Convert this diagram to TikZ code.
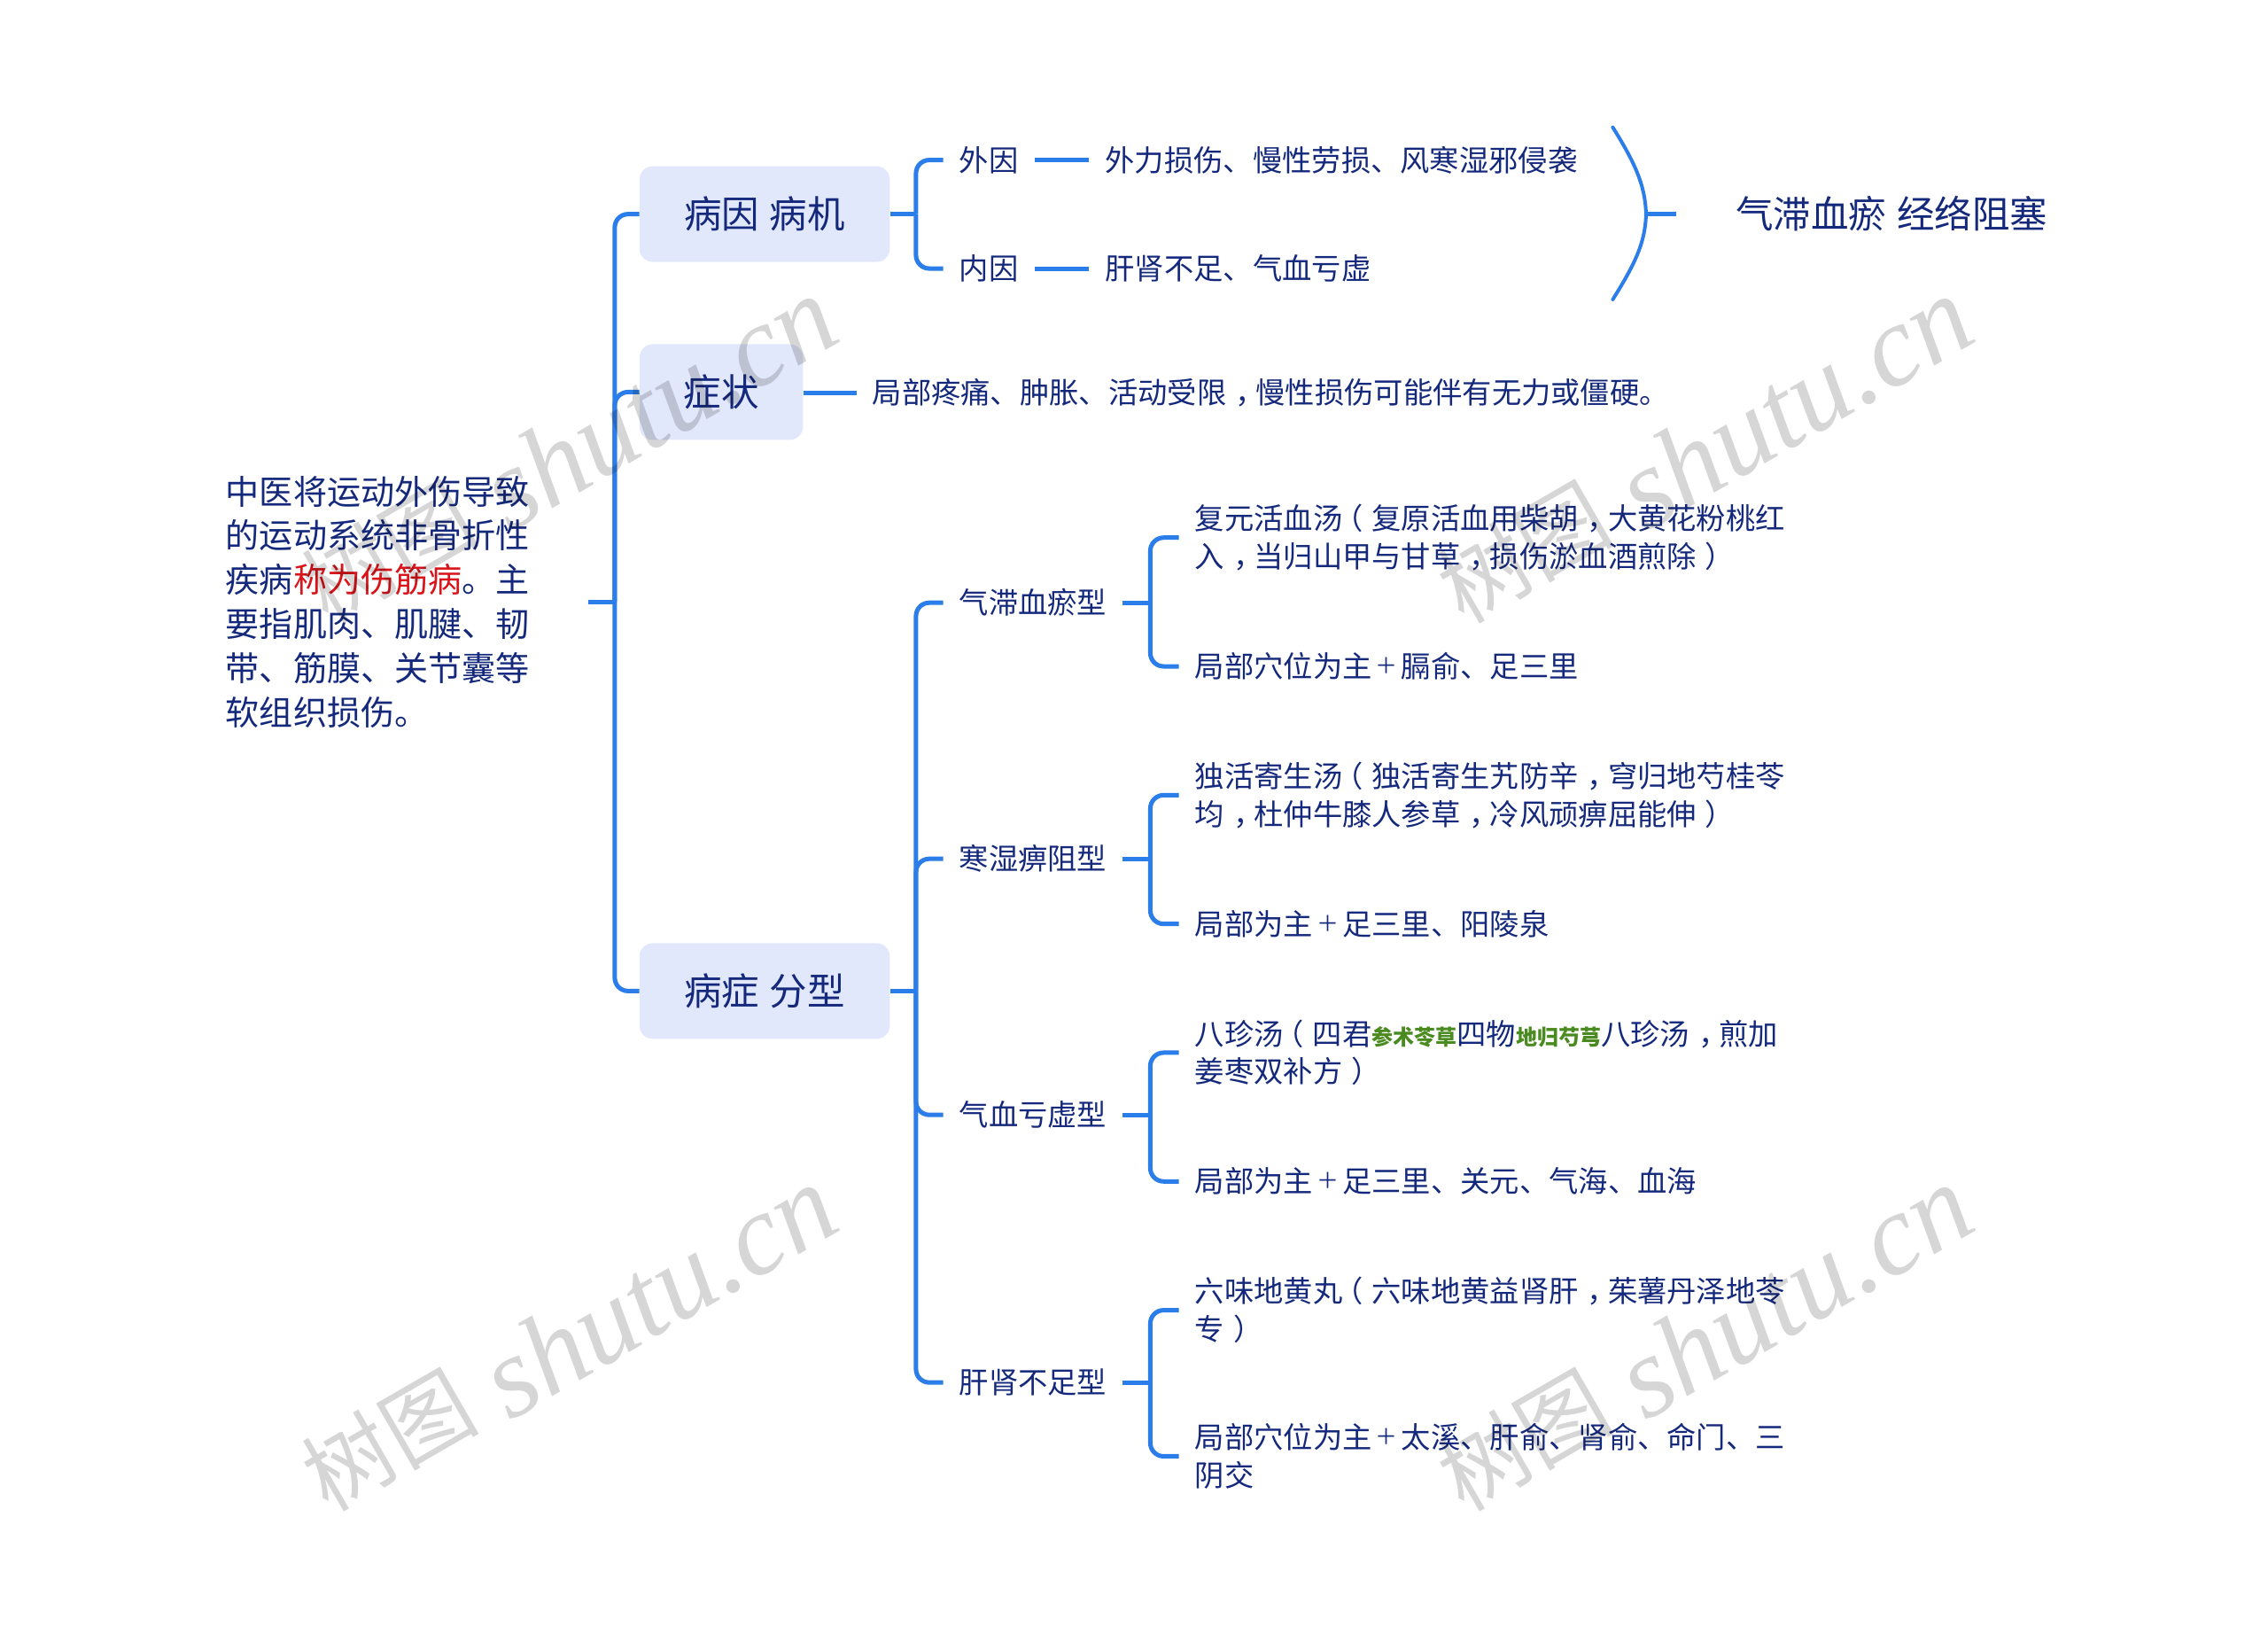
\documentclass[tikz,border=0pt]{standalone}
\usepackage{fontspec}
\setmainfont{Noto Sans CJK SC}
\newfontfamily\wmlatin{Liberation Serif}[ItalicFont=* Italic]
\definecolor{ink}{HTML}{15297C}
\definecolor{wire}{HTML}{2B7DE9}
\definecolor{boxfill}{HTML}{E2E8FC}
\definecolor{herb}{HTML}{4A8A20}
\definecolor{redtxt}{HTML}{D9141A}
\newcommand{\herbs}[1]{{\color{herb}\fontsize{24}{24}\selectfont\bfseries #1}}
\newcommand{\lpar}{\makebox[1em][l]{\hspace{-.3em}（}}
\newcommand{\rpar}{\makebox[1em][l]{\hspace{.3em}）}}
\newcommand{\cma}{\makebox[1em][l]{\hspace{.3em}，}}
\newcommand{\pls}{\makebox[1em][c]{\raisebox{.12em}{\fontsize{25}{25}\selectfont ＋}}}
\tikzset{
  link/.style={draw=wire,line width=5pt,rounded corners=15pt},
  bigbox/.style={fill=boxfill,rounded corners=15pt,anchor=west,text=ink,inner sep=0pt,minimum height=108pt,font=\fontsize{42.5}{50}\selectfont},
  leaf/.style={anchor=west,text=ink,align=left,inner ysep=0pt,inner xsep=18pt,yshift=-1pt,font=\fontsize{33.3}{42.5}\selectfont},
  rootbox/.style={anchor=west,text=ink,align=left,inner sep=0pt,text width=410pt,font=\fontsize{38.1}{49.8}\selectfont},
  heading/.style={anchor=west,text=ink,inner ysep=0pt,inner xsep=67pt,font=\fontsize{42.5}{50}\selectfont},
  wmark/.style={text=black,opacity=0.16,rotate=30,font=\fontsize{130}{130}\selectfont}
}
\begin{document}
\begin{tikzpicture}[x=1.63265pt,y=-1.63265pt]
\useasboundingbox (0,0) rectangle (1568,1128.84);
% root
\node[rootbox] (root) at (156,416) {中医将运动外伤导致\\的运动系统非骨折性\\疾病{\color{redtxt}称为伤筋病}。主\\要指肌肉、肌腱、韧\\带、筋膜、关节囊等\\软组织损伤。};
\coordinate (rootout) at (407,416);
% main boxes
\node[bigbox,minimum width=282.5pt] (cause) at (442,148) {病因 \hspace{.05em}病机};
\node[bigbox,minimum width=184.5pt] (sym) at (442,271) {症状};
\node[bigbox,minimum width=282.5pt] (type) at (442,685) {病症 \hspace{.05em}分型};
% cause
\node[leaf] (wai) at (652,110) {外因};
\node[leaf] (nei) at (652,185) {内因};
\node[leaf] (waid) at (753,110) {外力损伤、慢性劳损、风寒湿邪侵袭};
\node[leaf] (neid) at (753,185) {肝肾不足、气血亏虚};
\node[heading] (sum) at (1159,148) {气滞血瘀 \hspace{.05em}经络阻塞};
\coordinate (btop) at (1115,88);
\coordinate (bbot) at (1115,207);
\coordinate (bmid) at (1138,148);
% symptom
\node[leaf] (symd) at (592,271) {局部疼痛、肿胀、活动受限\cma 慢性损伤可能伴有无力或僵硬。};
% types
\node[leaf] (t1) at (652,416) {气滞血瘀型};
\node[leaf] (t2) at (652,593) {寒湿痹阻型};
\node[leaf] (t3) at (652,770) {气血亏虚型};
\node[leaf] (t4) at (652,955) {肝肾不足型};
\node[leaf] (t1a) at (815,371) {复元活血汤\lpar 复原活血用柴胡\cma 大黄花粉桃红\\入\cma 当归山甲与甘草\cma 损伤淤血酒煎除\rpar};
\node[leaf] (t1b) at (815,460) {局部穴位为主\pls 膈俞、足三里};
\node[leaf] (t2a) at (815,549) {独活寄生汤\lpar 独活寄生艽防辛\cma 穹归地芍桂苓\\均\cma 杜仲牛膝人参草\cma 冷风顽痹屈能伸\rpar};
\node[leaf] (t2b) at (815,638) {局部为主\pls 足三里、阳陵泉};
\node[leaf] (t3a) at (815,727) {八珍汤\lpar 四君\herbs{参术苓草}四物\herbs{地归芍芎}八珍汤\cma 煎加\\姜枣双补方\rpar};
\node[leaf] (t3b) at (815,816) {局部为主\pls 足三里、关元、气海、血海};
\node[leaf] (t4a) at (815,905) {六味地黄丸\lpar 六味地黄益肾肝\cma 茱薯丹泽地苓\\专\rpar};
\node[leaf] (t4b) at (815,1006) {局部穴位为主\pls 太溪、肝俞、肾俞、命门、三\\阴交};
% connectors
\draw[link] (root.east -| rootout) -- ++(18,0) coordinate (jroot);
\foreach \b in {cause,sym,type}{\draw[link] (jroot) |- (\b.west);}
\draw[link] (cause.east) -- ++(18,0) coordinate (jcause);
\foreach \b in {wai,nei}{\draw[link] (jcause) |- (\b.west);}
\draw[link] (wai.east) -- (waid.west);
\draw[link] (nei.east) -- (neid.west);
\draw[link] (sym.east |- symd.west) -- (symd.west);
\draw[link] (type.east) -- ++(18,0) coordinate (jtype);
\foreach \b in {t1,t2,t3,t4}{\draw[link] (jtype) |- (\b.west);}
\foreach \p in {t1,t2,t3,t4}{
  \draw[link] (\p.east) -- ++(19,0) coordinate (j\p);
  \foreach \c in {a,b}{\draw[link] (j\p) |- (\p\c.west);}
}
\draw[draw=wire,line width=4pt,line cap=round] (btop) .. controls (1130,112) and (1137.5,128) .. (bmid) .. controls (1137.5,168) and (1130,183) .. (bbot);
\draw[link,line width=4.5pt] (bmid) -- (sum.west);
% watermarks
\foreach \i/\x/\y in {a/393/311.5,b/1178/311.5,c/393/925.5,d/1178/925.5}{
  \node[wmark] (wm\i) at (\x,\y) {\raisebox{13pt}{\fontsize{100}{100}\selectfont 树图} {\wmlatin\itshape shutu.cn}};
}
\end{tikzpicture}
\end{document}
